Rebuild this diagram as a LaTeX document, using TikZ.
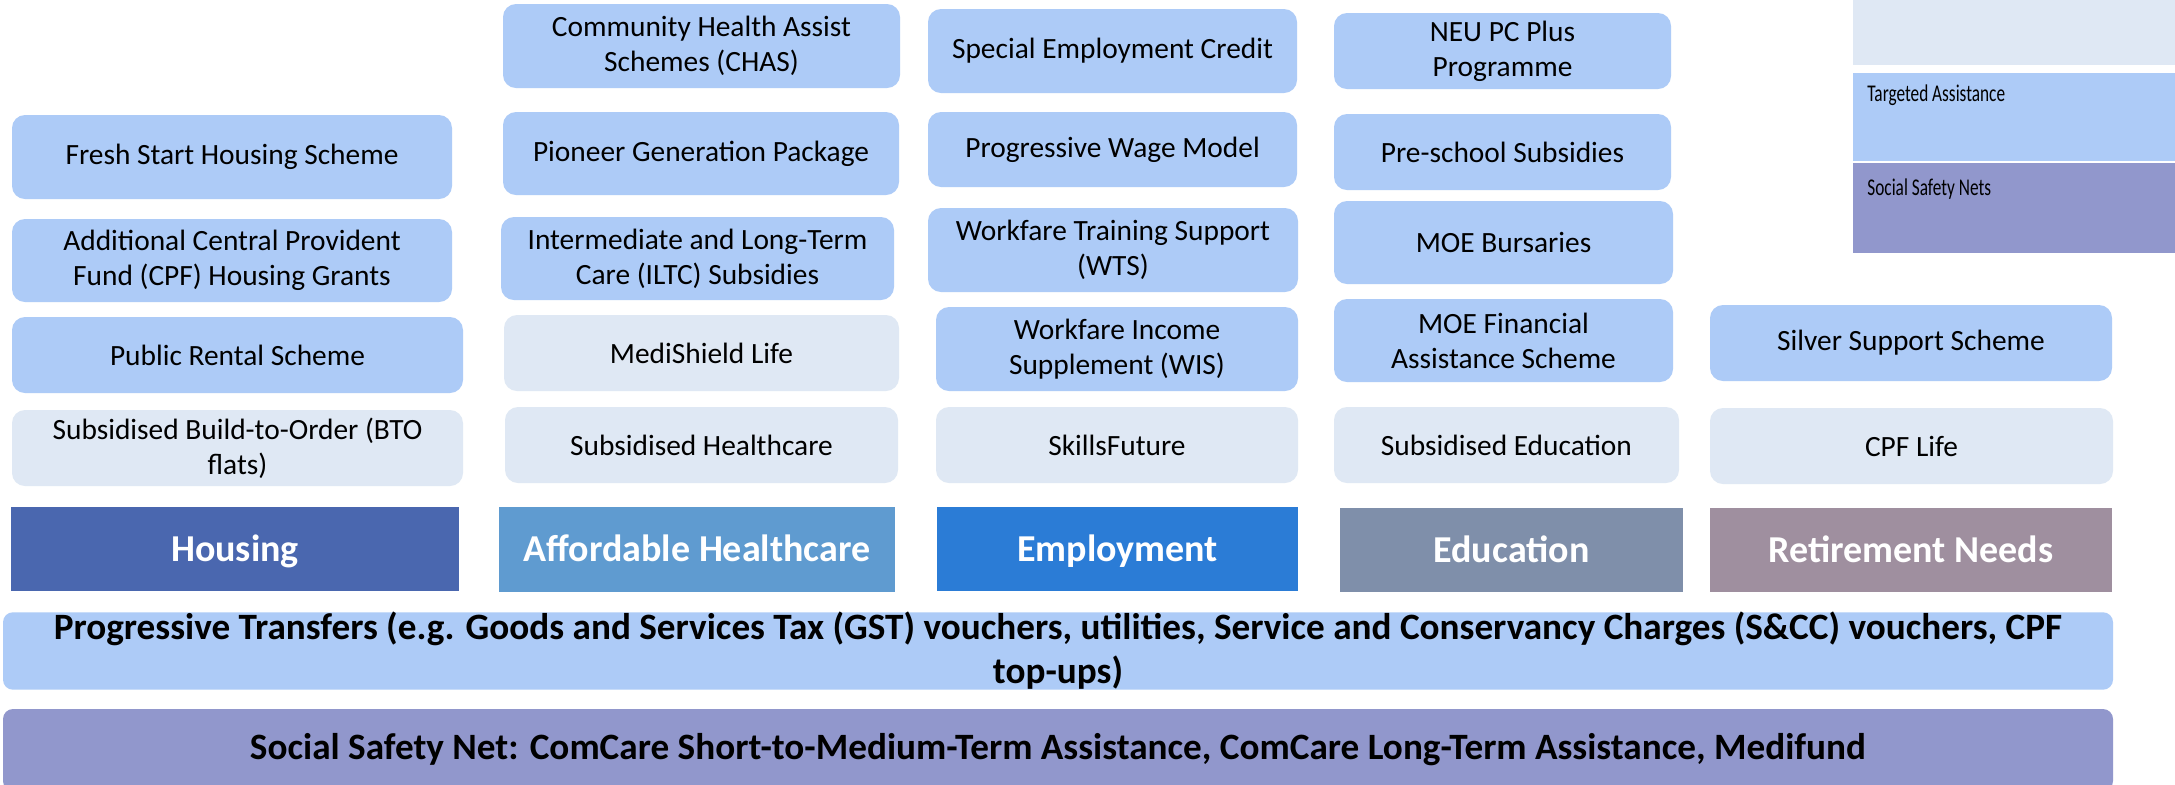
\documentclass[tikz,border=0pt]{standalone}
\usepackage{fontspec}
\setmainfont{Carlito}
\definecolor{targ}{RGB}{173,203,247}
\definecolor{univ}{RGB}{223,232,244}
\definecolor{ssn}{RGB}{145,151,204}
\definecolor{hHous}{RGB}{74,103,175}
\definecolor{hHealth}{RGB}{95,155,208}
\definecolor{hEmp}{RGB}{43,124,214}
\definecolor{hEdu}{RGB}{127,143,170}
\definecolor{hRet}{RGB}{159,143,159}
\tikzset{
  cell/.style={inner sep=0pt, outer sep=0pt, align=center, rounded corners=6.5pt,
    font=\fontsize{14.7}{17.5}\selectfont, text=black},
  tbox/.style={cell, fill=targ},
  ubox/.style={cell, fill=univ},
  head/.style={inner sep=0pt, outer sep=0pt, align=center, text=white,
    text height=14pt, text depth=1.8pt,
    font=\fontsize{19}{22}\selectfont\bfseries},
  bar/.style={inner sep=0pt, outer sep=0pt, align=center, rounded corners=5pt,
    font=\fontsize{18.6}{22}\selectfont\bfseries, text=black},
  leg/.style={inner sep=0pt, outer sep=0pt},
  legtext/.style={inner sep=0pt, anchor=north west, font=\fontsize{12}{14}\selectfont}
}
\newcommand\bx[7]{%
  \pgfmathsetmacro\bw{(#4-#2)*0.5}%
  \pgfmathsetmacro\bh{(#5-#3)*0.5}%
  \node[#6, minimum width=\bw pt, minimum height=\bh pt] (#1) at ({(#2+#4)/2},{(#3+#5)/2}) {#7};}
\begin{document}
\begin{tikzpicture}[x=0.5pt,y=-0.5pt]
\clip (0,0) rectangle (2175,784);
\fill[white] (0,0) rectangle (2175,784);
% Housing
\bx{fresh}{12}{115}{452}{199}{tbox}{Fresh Start Housing Scheme}
\bx{cpfg}{12}{219}{452}{302}{tbox}{Additional Central Provident\\Fund (CPF) Housing Grants}
\bx{rental}{12}{317}{463}{393}{tbox}{Public Rental Scheme}
\bx{bto}{12}{410}{463}{486}{ubox}{Subsidised Build-to-Order (BTO\\flats)}
% Healthcare
\bx{chas}{503}{4}{900}{88}{tbox}{Community Health Assist\\Schemes (CHAS)}
\bx{pgp}{503}{112}{899}{195}{tbox}{Pioneer Generation Package}
\bx{iltc}{501}{217}{894}{300}{tbox}{Intermediate and Long-Term\\Care (ILTC) Subsidies}
\bx{msl}{504}{315}{899}{391}{ubox}{MediShield Life}
\bx{shc}{505}{407}{898}{483}{ubox}{Subsidised Healthcare}
% Employment
\bx{sec}{928}{9}{1297}{93}{tbox}{Special Employment Credit}
\bx{pwm}{928}{112}{1297}{187}{tbox}{Progressive Wage Model}
\bx{wts}{928}{208}{1298}{292}{tbox}{Workfare Training Support\\(WTS)}
\bx{wis}{936}{307}{1298}{391}{tbox}{Workfare Income\\Supplement (WIS)}
\bx{skf}{936}{407}{1298}{483}{ubox}{SkillsFuture}
% Education
\bx{neu}{1334}{13}{1671}{89}{tbox}{NEU PC Plus\\Programme}
\bx{pre}{1334}{114}{1671}{190}{tbox}{Pre-school Subsidies}
\bx{bur}{1334}{201}{1673}{284}{tbox}{MOE Bursaries}
\bx{mfa}{1334}{299}{1673}{382}{tbox}{MOE Financial\\Assistance Scheme}
\bx{sed}{1334}{407}{1679}{483}{ubox}{Subsidised Education}
% Retirement
\bx{sss}{1710}{305}{2112}{381}{tbox}{Silver Support Scheme}
\bx{cpfl}{1710}{408}{2113}{484}{ubox}{CPF Life}
% Headers
\bx{hh}{11}{507}{459}{591}{head, fill=hHous}{Housing}
\bx{ha}{499}{507}{895}{592}{head, fill=hHealth}{Affordable Healthcare}
\bx{he}{937}{507}{1298}{591}{head, fill=hEmp}{Employment}
\bx{hd}{1340}{508}{1683}{592}{head, fill=hEdu}{Education}
\bx{hr}{1710}{508}{2112}{592}{head, fill=hRet}{Retirement Needs}
% Bars
\bx{prog}{3}{613}{2113}{689}{bar, fill=targ}{Progressive Transfers (e.g. Goods and Services Tax (GST) vouchers, utilities, Service and Conservancy Charges (S\&CC) vouchers, CPF\\top-ups)}
\bx{net}{3}{709}{2113}{791}{bar, fill=ssn}{Social Safety Net: ComCare Short-to-Medium-Term Assistance, ComCare Long-Term Assistance, Medifund}
% Legend
\bx{lu}{1853}{-5}{2185}{65}{leg, fill=univ}{}
\bx{lt}{1853}{73}{2185}{161}{leg, fill=targ}{}
\bx{ls}{1853}{163}{2185}{253}{leg, fill=ssn}{}
\node[legtext] (ltt) at (1867,84) {\scalebox{0.72}[1]{Targeted Assistance}};
\node[legtext] (lst) at (1867,178) {\scalebox{0.72}[1]{Social Safety Nets}};
\end{tikzpicture}
\end{document}
